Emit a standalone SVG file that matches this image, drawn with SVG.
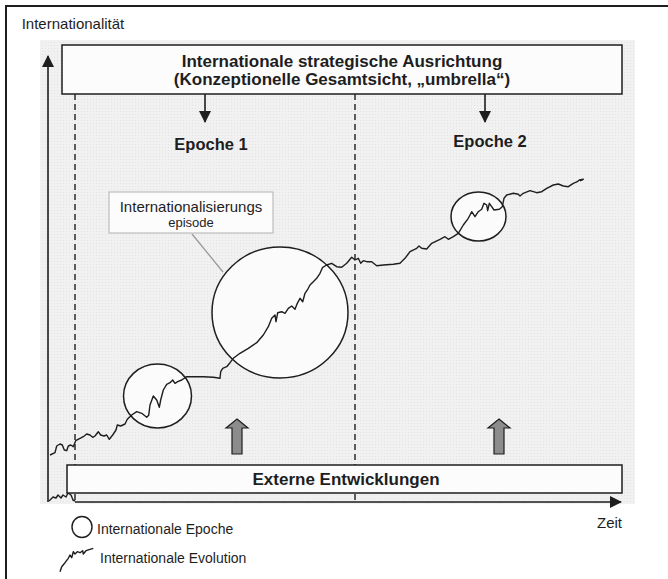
<svg xmlns="http://www.w3.org/2000/svg" width="668" height="579" viewBox="0 0 668 579">
<defs>
<style>
.t{font-family:"Liberation Sans",Arial,sans-serif;fill:#1e1e1e}
.b{font-weight:bold}
.ln{stroke:#1e1e1e;stroke-width:1.6;fill:none}
.dash{stroke:#1e1e1e;stroke-width:1.4;stroke-dasharray:6,4;fill:none}
.box{fill:#fcfcfc;stroke:#1e1e1e;stroke-width:1.5}
.circ{fill:#fbfbfb;stroke:#1e1e1e;stroke-width:1.5}
.curve{stroke:#1e1e1e;stroke-width:1.4;fill:none;stroke-linejoin:round}
.gar{fill:#8c8c8c;stroke:#1e1e1e;stroke-width:1.2}
</style>
<pattern id="tex" width="3" height="3" patternUnits="userSpaceOnUse">
<rect width="3" height="3" fill="#f1f1f1"/>
<rect width="1" height="1" fill="#e3e3e3"/>
</pattern>
<marker id="ah" viewBox="0 0 12 12" refX="11" refY="6" markerWidth="12" markerHeight="12" markerUnits="userSpaceOnUse" orient="auto">
<path d="M0,0 L12,6 L0,12 Z" fill="#1e1e1e"/>
</marker>
</defs>
<rect width="668" height="579" fill="#ffffff"/>
<path d="M6,579 L6,6 L668,6" stroke="#1e1e1e" stroke-width="2" fill="none"/>
<text class="t" x="21.7" y="29" font-size="15">Internationalität</text>
<rect id="background" x="40" y="40" width="595" height="464" fill="url(#tex)"/>
<g id="connectors">
<line class="dash" x1="75" y1="94" x2="75" y2="502"/>
<line class="dash" x1="355" y1="94" x2="355" y2="502"/>
<line class="ln" x1="48" y1="502" x2="48" y2="56" marker-end="url(#ah)"/>
<line class="ln" x1="75" y1="502" x2="621" y2="502" marker-end="url(#ah)"/>
<line class="ln" x1="205" y1="94" x2="205" y2="122" marker-end="url(#ah)"/>
<line class="ln" x1="485" y1="94" x2="485" y2="122" marker-end="url(#ah)"/>
<line x1="192" y1="234" x2="223" y2="272" stroke="#9a9a9a" stroke-width="1.3"/>
<path class="gar" d="M237,419 L248,428 L242,428 L242,454 L232,454 L232,428 L226,428 Z"/>
<path class="gar" d="M499,419 L510,428 L504,428 L504,454 L494,454 L494,428 L488,428 Z"/>
</g>
<g id="episode-small"><ellipse class="circ" cx="157.5" cy="396" rx="34" ry="32"/></g>
<g id="episode-big"><ellipse class="circ" cx="280" cy="312.5" rx="68" ry="65.5"/></g>
<g id="episode-right"><ellipse class="circ" cx="478.5" cy="216.5" rx="27.5" ry="24.5"/></g>
<g id="evolution">
<path class="curve" d="M50,455 L55,452.7 56.7,446 60,444 62.3,445 64.3,450 66.7,450.7 68.3,446 70.7,445 73.3,446.7 75.7,440.7 80,438.3 83.3,436.7 86.7,434 90,435 92.7,437.3 95,436 98.3,431.7 100.7,435 104,436 106.7,435 109.3,439.3 112.7,435 116,430 117.3,425 120.7,426 125,424 127.3,419.3 131.7,415 136.7,411.7 141.7,413.3 146.7,417.3 148.7,415.3 150,405 153.3,396 156.7,400 159.3,407.3 160.7,400 163.3,390 166.7,384.3 170,382.7 172.7,380 175,383.3 177.7,381.7 181.7,380 186.7,376.7 190,376.7 203.3,376.7 213.3,377.3 220,378.3 220.7,371.7 222.7,368.3 226.7,366.7 230,362.7 233.3,358.3 240,353.3 248.3,348.3 256.7,342.7 263.3,335 268.3,326.7 271.7,318.3 275,315 276,321.7 277.7,312.7 281.7,311.7 285,313.3 288.3,308.3 291.7,306 295,309.3 297.3,303.3 300,298.3 302.7,301.7 305,293.3 308.3,288.3 310,285 313.3,281.7 316.7,278.3 320,273.3 322.7,267.3 326.7,265 331.7,263.3 336.7,266.7 341.7,267.3 346.7,263.3 351.7,257.3 355,260 358.3,258.3 360.7,263.3 363.3,260.7 366.7,261.7 371.7,261.7 376.7,265.7 383.3,265 393.3,264.3 400,263.3 405,258.3 410,251.7 416.7,248.3 419,246 421.7,248.3 426.7,249 431.7,243.3 440,239.3 445,236.7 448.3,239.3 453.3,236.7 458.3,233.3 463.3,225 468.3,218.3 471.7,211.7 475,216.7 478.3,211.7 481.7,209.3 484,203.3 486.7,205 487.7,210.7 489.3,203.3 491.7,206.7 494,210 499.3,209.3 502.3,206.7 504,198.3 506.7,195 513.3,193.3 518.3,194.3 520,196 523.3,193.3 530,190.7 536.7,192.7 541.7,191.7 546.7,188.3 553.3,185 558.3,184 563.3,186 568.3,186.7 573.3,183.3 577.3,181.7 579.3,180 583.3,179.3 580,181"/>
<path class="curve" d="M49,501 L53,497 56,498 58,495 61,498 63,495 66,497 68,493 71,495 73,500 75,501"/>
</g>
<g id="strategy-box">
<rect class="box" x="62" y="45" width="560" height="49"/>
<text class="t b" x="342" y="67" font-size="17" text-anchor="middle">Internationale strategische Ausrichtung</text>
<text class="t b" x="342" y="85" font-size="17" text-anchor="middle">(Konzeptionelle Gesamtsicht, „umbrella“)</text>
</g>
<g id="epoche1"><text class="t b" x="211" y="150" font-size="16.5" text-anchor="middle">Epoche 1</text></g>
<g id="epoche2"><text class="t b" x="490" y="147" font-size="16.5" text-anchor="middle">Epoche 2</text></g>
<g id="label-episode">
<rect x="109" y="192" width="164" height="41" fill="#fcfcfc" stroke="#bdbdbd" stroke-width="1.2"/>
<text class="t" x="191" y="212" font-size="15" text-anchor="middle">Internationalisierungs</text>
<text class="t" x="191" y="227" font-size="13" text-anchor="middle">episode</text>
</g>
<g id="external-box">
<rect class="box" x="67" y="465" width="555" height="28"/>
<text class="t b" x="346" y="485" font-size="17" text-anchor="middle">Externe Entwicklungen</text>
</g>
<text class="t" x="622" y="528" font-size="15" text-anchor="end">Zeit</text>
<g id="legend">
<ellipse cx="82" cy="527" rx="10" ry="10.5" fill="#ffffff" stroke="#1e1e1e" stroke-width="1.4"/>
<text class="t" x="97" y="534" font-size="14">Internationale Epoche</text>
<path class="curve" d="M60,571.7 L61.7,566.7 65,562.7 68.3,558.3 70,555 71.7,557.7 73.3,551.7 75,554 77.3,551.7 80,552.7 82.7,550.7 83.3,554 86,550.7 90,549.3 93.3,548.3"/>
<text class="t" x="100" y="563" font-size="14">Internationale Evolution</text>
</g>
</svg>
